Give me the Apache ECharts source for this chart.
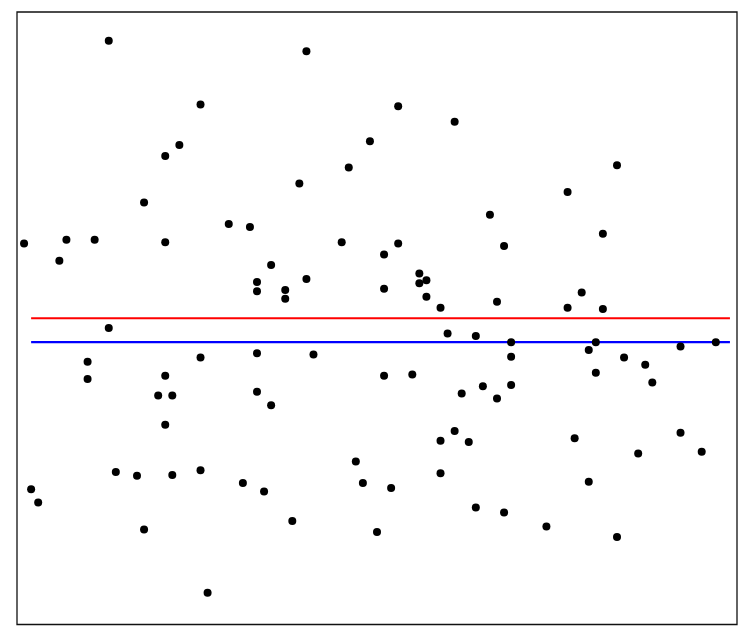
<!DOCTYPE html>
<html>
<head>
<meta charset="utf-8">
<script src="https://cdn.jsdelivr.net/npm/echarts@6/dist/echarts.min.js"></script>
<style>
  html, body { margin: 0; padding: 0; background: #fff; }
  #chart { width: 748px; height: 642px; }
</style>
</head>
<body>
<div id="chart"></div>
<script>
// scatter points
var xs = [0, 1, 2, 5, 6, 9, 9, 10, 12, 12,
  13, 16, 17, 17, 19, 20, 20, 20, 20, 21,
  21, 22, 25, 25, 25, 26, 29, 31, 32, 33,
  33, 33, 33, 34, 35, 35, 37, 37, 38, 39,
  40, 40, 41, 45, 46, 47, 48, 49, 50, 51,
  51, 51, 52, 53, 53, 55, 56, 56, 57, 57,
  59, 59, 59, 60, 61, 61, 62, 63, 64, 64,
  65, 66, 67, 67, 68, 68, 69, 69, 69, 74,
  77, 77, 78, 79, 80, 80, 81, 81, 82, 82,
  84, 84, 85, 87, 88, 89, 93, 93, 96, 98];
var ys = [62.2, 22.1, 19.9, 59.4, 62.8, 42.9, 40.1, 62.8, 95.3, 48.4,
  24.9, 24.3, 68.9, 15.5, 37.4, 76.5, 62.4, 40.6, 32.6, 37.4,
  24.4, 78.3, 84.9, 43.6, 25.2, 5.2, 65.4, 23.1, 64.9, 55.9,
  54.4, 44.3, 38.0, 21.7, 58.7, 35.8, 54.6, 53.2, 16.9, 72.0,
  93.6, 56.4, 44.1, 62.4, 74.6, 26.6, 23.1, 78.9, 15.1, 60.4,
  54.8, 40.6, 22.3, 84.6, 62.2, 40.8, 57.3, 55.7, 56.2, 53.5,
  51.7, 30.0, 24.7, 47.5, 82.1, 31.6, 37.7, 29.8, 47.1, 19.1,
  38.9, 66.9, 52.7, 36.9, 61.8, 18.3, 46.1, 43.7, 39.1, 16.0,
  70.6, 51.7, 30.4, 54.2, 44.8, 23.3, 46.1, 41.1, 63.8, 51.5,
  75.0, 14.3, 43.6, 27.9, 42.4, 39.5, 45.4, 31.3, 28.2, 46.1];

// the two horizontal reference lines
var lineX = [1, 100];
var redLevel = 50.0;
var blueLevel = 46.1;

var points = xs.map(function (x, i) { return [x, ys[i]]; });

var chart = echarts.init(document.getElementById('chart'));
var option = {
  animation: false,
  grid: {
    left: 17, top: 12, right: 11, bottom: 17.5,
    show: true, borderColor: '#111', borderWidth: 1.3, backgroundColor: '#fff'
  },
  xAxis: {
    type: 'value', min: -1, max: 101,
    axisLine: { show: false }, axisTick: { show: false },
    axisLabel: { show: false }, splitLine: { show: false }
  },
  yAxis: {
    type: 'value', min: 0, max: 100,
    axisLine: { show: false }, axisTick: { show: false },
    axisLabel: { show: false }, splitLine: { show: false }
  },
  series: [
    {
      type: 'line',
      data: lineX.map(function (x) { return [x, redLevel]; }),
      symbol: 'none',
      lineStyle: { color: '#ff0000', width: 2.2 },
      z: 2
    },
    {
      type: 'line',
      data: lineX.map(function (x) { return [x, blueLevel]; }),
      symbol: 'none',
      lineStyle: { color: '#0000ff', width: 2.2 },
      z: 2
    },
    {
      type: 'scatter',
      data: points,
      symbolSize: 8,
      itemStyle: { color: '#000', opacity: 1 },
      z: 3
    }
  ]
};
chart.setOption(option);
</script>
</body>
</html>
